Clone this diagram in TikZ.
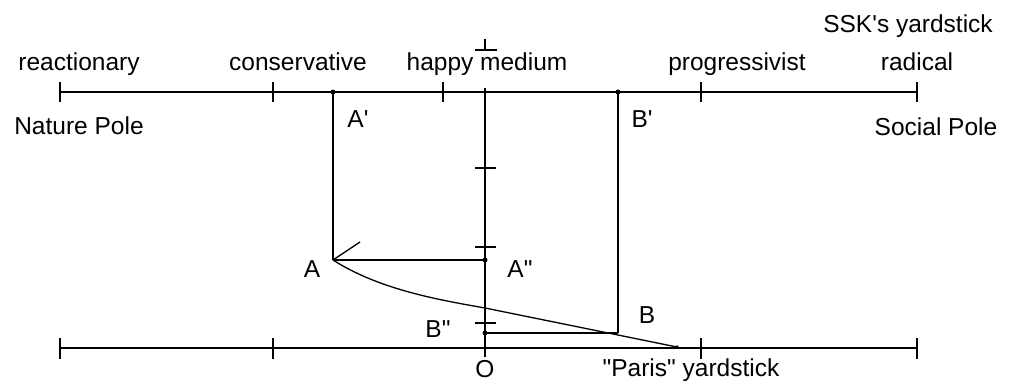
\documentclass[tikz,border=0pt]{standalone}
\usepackage{fontspec}
\setmainfont{Liberation Sans}
\newcommand{\sq}{\textquotesingle}
\newcommand{\dq}{\textquotedbl}
\begin{document}
\begin{tikzpicture}[x=1pt,y=-1pt,line width=1.3pt,
  lbl/.style={anchor=base,inner sep=0pt,font=\fontsize{24.5}{28}\selectfont},
  dotm/.style={circle,fill=black,inner sep=0pt,minimum size=5pt}]
\useasboundingbox (0,0) rectangle (1011,381);
% top scale (SSK's yardstick)
\coordinate (TL) at (60,92);
\coordinate (TR) at (917,92);
\draw (TL) -- (TR);
\foreach \x in {60,273,443,701,917} \draw (\x,82) -- (\x,102);
% bottom scale (Paris yardstick)
\coordinate (BL) at (60,348);
\coordinate (BR) at (917,348);
\draw (BL) -- (BR);
\foreach \x in {60,273,701,917} \draw (\x,338) -- (\x,359);
% vertical axis
\coordinate (Vt) at (485,88);
\coordinate (Vb) at (485,357);
\draw (Vt) -- (Vb);
\draw (485,39) -- (485,50) (475,50) -- (497,50);
\foreach \y in {168,247,323} \draw (475,\y) -- (496,\y);
% points
\node[dotm] (Ap) at (333,92) {};
\node[dotm] (Bp) at (618,92) {};
\coordinate (A) at (333,260);
\node[dotm] (App) at (485,260) {};
\coordinate (B) at (618,333);
\node[dotm] (Bpp) at (485,333) {};
\coordinate (E) at (677,347);
\draw (Ap.center) -- (A);
\draw (A) -- (App.center);
\draw (Bp.center) -- (B);
\draw (Bpp.center) -- (B);
\draw (A) -- (360,242);
\draw (A) .. controls (380,290) and (440,300) .. (485,308) -- (E);
\fill (E) circle (1.8pt);
% labels
\node[lbl] at (908,32) {SSK\sq s yardstick};
\node[lbl] at (79,70) {reactionary};
\node[lbl] at (298,70) {conservative};
\node[lbl] at (487,70) {happy medium};
\node[lbl] at (737,70) {progressivist};
\node[lbl] at (917,70) {radical};
\node[lbl] at (79,134) {Nature Pole};
\node[lbl] at (936,135) {Social Pole};
\node[lbl] at (358,127) {A\sq};
\node[lbl] at (642,127) {B\sq};
\node[lbl] at (312,277) {A};
\node[lbl] at (520,277) {A\dq};
\node[lbl] at (647,323) {B};
\node[lbl] at (438,337) {B\dq};
\node[lbl] at (485,377) {O};
\node[lbl] at (691,376) {\dq Paris\dq{} yardstick};
\end{tikzpicture}
\end{document}
